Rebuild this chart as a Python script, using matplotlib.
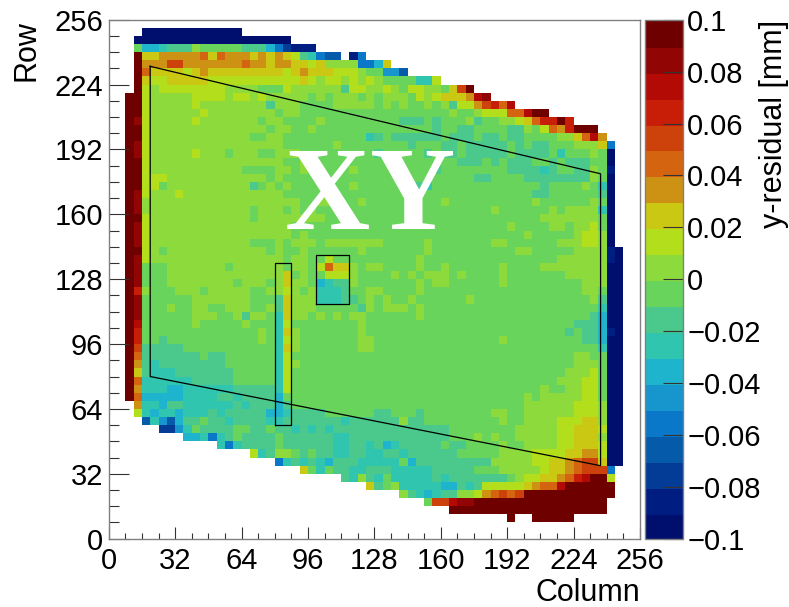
import numpy as np
import matplotlib
matplotlib.use("Agg")
import matplotlib.pyplot as plt
from matplotlib.colors import ListedColormap, BoundaryNorm

plt.rcParams["font.family"] = ["Liberation Sans", "DejaVu Sans"]

# y-residual per 4x4 bin, top row first, one letter per palette level, a = lowest, . = no data
ROWS = [
    "........ ........ ........ ........ ........ ........ ........ ........",
    "....aaaa aaaaaaaa ........ ........ ........ ........ ........ ........",
    "...aaaaa aaaaaaaa aaaaaa.. ........ ........ ........ ........ ........",
    "...jgghi iikjjjjj iiigecbb b....... ........ ........ ........ ........",
    "...tmmnn nnnomonn nmnmnmli hedd.be. ........ ........ ........ ........",
    "...tnnnp pnnnnnnn onnmnnmm lmkkkkee gm...... ........ ........ ........",
    "...tommm mlmnmmmm mmmmmlmn mmmlllkj jffd.... ........ ........ ........",
    "...tmllm mmmmllll lllllllm lkllklkl kjjjjhhl ........ ........ ........",
    "...tlkll llllllkk kkjjjlkk kkkkillk klkjllkk jmpt.... ........ ........",
    "..ttlkkk kkllllkl lklkkkkk jkjkkkjk jkkkjlkl mmmnrs.. ........ ........",
    "..ttlkkk kklkkkkk kkkikkkj jjjkkkkk jkjkjjkj killnpqo r....... ........",
    "..ttlkkk kkklkkkk kkkkjkkj jjjjjjjj jjjjjjjj jkjjklll oortt... ........",
    "..tslkkk kklkkkkk kkjkkjjj jkjjjjjj jjjiiiji jjjkijjk klmoqqtq ........",
    "..ttlkkk kkkkkkkk kkkjkkjj kjjjjjjj jjjjjjji jjiijjjj iikjlonq ttt.....",
    "..ttlkkk kkkkkkkk kjjkkjjj jjjjjjjh ijiiiiii jiiijiij iijjjjkk morn....",
    "..tslkkk kkkkkkkk kkkkkjjj jjjkjjjj jjjjijjj iijiiiii jijiijjj kkkme...",
    "..tslkkk kklkkkjk kkjjkkkj jjjjjjjj ijjjjjij iijiiiii jiiiijhj jjkja...",
    "..ttlkkk kkkkkkkk kkkkkjjk jjjjjjjj jjjjjjjj jjiiijij iiijjiji iijja...",
    "..ttlkkk kkkkkkkk jjjjkkjk jjjjjkjj jjjjjjji jjjjjjjj iiiihijj iikjb...",
    "..ttlllk kkkkkkkk kkkjkjjj jjjjjjjj jjjjjjjj jjjjiijj jjiiiiii iikja...",
    "..ttlljk kkkkkkkk kijkjkjj jjjjjkjj jjjjjihj jjjjjjjj jjjjijjj jkjha...",
    "..tslkkk lkkkkkkk kkkkkjjj jjjjjjjj jjjjjjjj jjjjjjjj jjjiijjj jjjia...",
    "..tskkkk kkkkkkkk kkkkkkkj jkkjjjkj jjjjjjjj kjjjjjjj jjjkjjjj jjkja...",
    "..tskkkk kkkkkkkk kjkkkjkj kjjjjjjj jjjjjjjj jjjjjjkj jjjjjkjk kkkha...",
    "..ttlkkk kkkkkkkk kjkkkkkk kkjjjjjj jjjjjjjj jjjjjjjj jjjjkkkk kkkja...",
    "..tslkkk kkkkkkkk kkkkkkjj jjjjjjjj jjjjjjjj jjjjjjjj kjjjjkkj kklja...",
    "..tslkkk kkkkkkkk kkkkkkjk jjjjjjjj jjjjjjjj jjjjjjjj jjkjjjjj kllka...",
    "..tslkkk kkkkkkkk kjjjkjkk kjkkkkkk kjjjjjkj jjjjjjkk jjjjjjkk kllka...",
    "..ttlkjk kkkkkkkk kkkjkjjk jjjjjjkj jjjjjjkj jjjjjjjj jkkjjjjj kkkkba..",
    "..tslkkk kkkkkkkk kkkkkjkk jjljjjjj jjjjjkjj jjjjjjjj jjjjjjkk kkkkba..",
    "..tsjjjk kkkkkkjk kkkkkjkk jlommkjk kjjjjkjj kjjjjjjk jjjjkkkk kkkkaa..",
    "..tsjjjk kkkkkkkk kkkkkmjk jjlllkjj jjkjkjkk kjkjjjjk jjjjjjjk kkkkaa..",
    "..tsjjjk kkkkkkkj kkkjkmkk jghiikjj jjjjjkjk kjjjjjjk jjjjjjjj jkkkaa..",
    "..tqkjjj kkkjkkkk kjjkklkj khhhijjk kjjjjkjj jjjjjjjj jjjjjjjj jkkjaa..",
    "..tsjjjj jjkkkkkk kjjjimkk khhhiijk jkjjkjjj jjjkjjjj jjjjjjjj jjkiaa..",
    "..tsjjjk jjkkjjkk kjjkimkk kjjjjjik jkkkjkjj jjjjjjjj jjjjjjjj jjjhaa..",
    "..tsjjjj jjkkkjjk ikkjhmkk jkjkjkkj jjjjjkjj jjjjjjjj jjjjjjjj jjigaa..",
    "..trjjjj jjkjjjjj kjjjhljj jjjjjjkj jjjjjjjj jjjjjjjj jjjjjjjj iiigaa..",
    "..tqjjjj jjjjjjjj jjkjhmkj jjjjjjkj jjjjjjjj jjjjjjjj jjjjjjji jiigba..",
    "..tqjjij jjjjjjjj jjkjhlkj jjjjjjkk jjjjjjjj jjjjjjjk jjjjjjjj jiigaa..",
    "..tpiiii ijjjjjjj jjjjhmkj jjjjjjkk jjjjjjjj jjjjjjjj jjjjjjjj jjjhaa..",
    "..toiiii iiijiijj jjjjhljj jjjjjjjj jjjjjjjj jjjjjjjj jjjjjjjj kkjjaa..",
    "..tnihii iiiiiijj jjjjhlkj jjjjjjjj jjjjjjjj jjjjjjjj jjjjjjjj kkkjaa..",
    "..tmihhh iiiiiiij jjjjhljj jjjjjjjj jjjjjjjj jjjjjjjj jjjjjjjk kkljaa..",
    "..tohhhh hhiiiiij jjjjhljj jjjjjjjj jjjjjjjj jjjjjjjj jjjjjjkk klljaa..",
    "..tnhhhg ghhhhhhi iiiihljj jjjjjjjj jjjjjjjj jjjjjjjj jjjjkjjk klljaa..",
    "..togggg ghhhhiih iiiigjjj jjjjjjjj jjjjjjjj jjjjjjjj jjkjkkkk klljaa..",
    "...nhhgi ihhhhhhi hiiigijj jjjjjjjj jjjjjjjj jjjjjjjj jjkkkkkk lllkaa..",
    "...lhghh ghhhihii iiigghii iijjjjjj iijjjijj jjjjjjkk jjkkkkkk lllkaa..",
    "....dhfd giijiihi iiihhiii iiiihiii iiikiijj jjjjjjjk jjkkkkll lmmkaa..",
    "......cc fhjiiiij jiijiihi hihiiiii iiiiiiii ijjjjjjj jkkkkkll mmmlaa..",
    "........ .gghehij iiiijiii iiihhiii iiiiiiii ijjjkjkj jkkkkkll mmmkaa..",
    "........ .....heh iiiijiii iiihhiih ighiiiii jiijjjjk jjkkkkll mmmlaa..",
    "........ ........ .lhikkji jiihhiih hiihiiii iijjjjjk kkkllllm mnnlaa..",
    "........ ........ ....ehih ihgiiihh hhhjgiii iiiiiikk kkkllmmn oppmaa..",
    "........ ........ .......m jhjiihhi iihhhhhi iiiijjjk kkkklmmn opppe...",
    "........ ........ ........ ....ihki hjhhhhhi hiiiiiii jkllmmno qrttl...",
    "........ ........ ........ .......m ijkhhhhh ggihilll llmnoort ttttt...",
    "........ ........ ........ ........ ...kihgh iikklnop optttttt ttttt...",
    "........ ........ ........ ........ ......jp prsstttt tttttttt tttt....",
    "........ ........ ........ ........ ........ .ttttttt tttttttt tttt....",
    "........ ........ ........ ........ ........ ........ t..ttttt ........",
    "........ ........ ........ ........ ........ ........ ........ ........",
    "........ ........ ........ ........ ........ ........ ........ ........",
]
LETTERS = "abcdefghijklmnopqrst"

PALETTE = [
    "#000f6e", "#001e82", "#033c96", "#055aaa", "#0a78c8",
    "#1696cd", "#1eb4cd", "#30c5af", "#4bc88c", "#68d45c",
    "#8cda3c", "#b2de1c", "#cbc814", "#cd9114", "#d4640f",
    "#cd410a", "#c81e08", "#b40a05", "#910505", "#6e0000",
]

POLY_X = [20, 237, 237, 20, 20]
POLY_Y = [233, 180, 36, 80, 233]
BOX1_X = [80, 88, 88, 80, 80]
BOX1_Y = [56, 56, 136, 136, 56]
BOX2_X = [100, 116, 116, 100, 100]
BOX2_Y = [116, 116, 140, 140, 116]

AXIS_TICKS = list(range(0, 257, 32))
CBAR_TICKS = [-0.1, -0.08, -0.06, -0.04, -0.02, 0, 0.02, 0.04, 0.06, 0.08, 0.1]
CBAR_LABELS = ["\u22120.1", "\u22120.08", "\u22120.06", "\u22120.04", "\u22120.02", "0",
               "0.02", "0.04", "0.06", "0.08", "0.1"]

W, H = 789, 607
FRAME = "#808080"
FS = 21
FS_TITLE = 22


def decode(rows):
    out = np.full((64, 64), np.nan)
    for i, row in enumerate(rows):
        row = row.replace(" ", "")
        assert len(row) == 64, (i, len(row))
        for j, ch in enumerate(row):
            if ch != ".":
                out[63 - i, j] = -0.095 + 0.01 * LETTERS.index(ch)
    return out


z = np.ma.masked_invalid(decode(ROWS))
edges = np.arange(0, 257, 4)
levels = np.linspace(-0.1, 0.1, 21)
cmap = ListedColormap(PALETTE)
norm = BoundaryNorm(levels, cmap.N)

fig = plt.figure(figsize=(W / 100, H / 100), dpi=100)
ax = fig.add_axes([108.7 / W, 1 - 538.7 / H, (640 - 108.7) / W, (538.7 - 19.7) / H])
mesh = ax.pcolormesh(edges, edges, z, cmap=cmap, norm=norm, linewidth=0, rasterized=True)

ax.plot(POLY_X, POLY_Y, color="black", lw=0.9)
ax.plot(BOX1_X, BOX1_Y, color="black", lw=0.9)
ax.plot(BOX2_X, BOX2_Y, color="black", lw=0.9)

ax.set_xlim(0, 256)
ax.set_ylim(0, 256)
ax.set_xticks(AXIS_TICKS)
ax.set_yticks(AXIS_TICKS)
ax.set_xticks(range(0, 257, 8), minor=True)
ax.set_yticks(range(0, 257, 8), minor=True)
ax.tick_params(axis="x", which="major", direction="in", length=8.6, width=0.8, color="#333333",
               labelsize=FS, pad=6)
ax.tick_params(axis="x", which="minor", direction="in", length=4.3, width=0.8, color="#333333")
ax.tick_params(axis="y", which="major", direction="in", length=14.4, width=0.8, color="#333333",
               labelsize=FS, pad=4)
ax.tick_params(axis="y", which="minor", direction="in", length=7.2, width=0.8, color="#333333")
for s in ax.spines.values():
    s.set_color(FRAME)
    s.set_linewidth(1)

ax.set_xlabel("Column", fontsize=FS_TITLE, loc="right", labelpad=2)
ax.set_ylabel("Row", fontsize=FS_TITLE, loc="top", labelpad=9)

# the two letters sit closer than the font's own spacing
ax.text(105.2, 152.8, "X", ha="center", va="baseline", color="white",
        fontsize=85, fontweight="bold", family="Liberation Serif")
ax.text(146.2, 152.8, "Y", ha="center", va="baseline", color="white",
        fontsize=85, fontweight="bold", family="Liberation Serif")

cax = fig.add_axes([645 / W, 1 - 538.7 / H, (683 - 645) / W, (538.7 - 19.7) / H])
cb = fig.colorbar(mesh, cax=cax, ticks=CBAR_TICKS, spacing="proportional")
cb.ax.set_yticklabels(CBAR_LABELS)
cb.ax.minorticks_off()
cb.ax.tick_params(direction="in", length=14.4, width=0.8, color="#333333", labelsize=FS, pad=3)
cb.outline.set_edgecolor(FRAME)
cb.outline.set_linewidth(1)
cb.solids.set_edgecolor("face")
cb.set_label("y-residual [mm]", fontsize=FS_TITLE, loc="top", labelpad=-1.5)

fig.savefig("out.png", dpi=100)
